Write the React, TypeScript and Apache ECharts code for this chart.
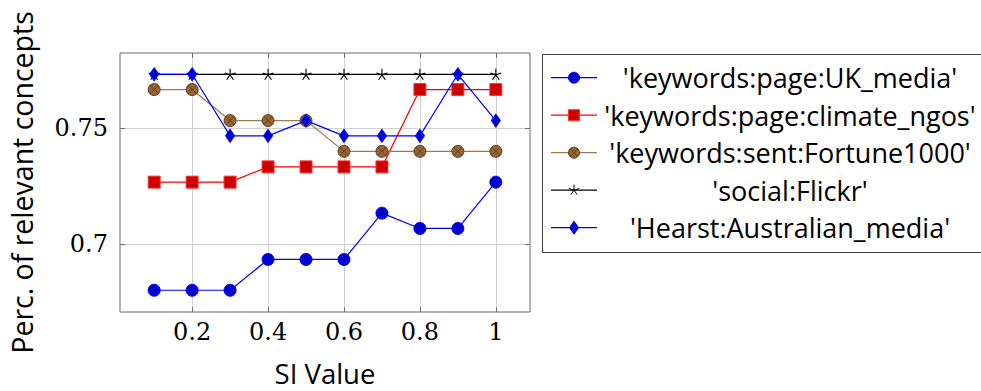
import React, { useEffect, useRef } from "react";
import * as echarts from "echarts";

const siValues = [0.1, 0.2, 0.3, 0.4, 0.5, 0.6, 0.7, 0.8, 0.9, 1.0];
const ukMedia = [0.68, 0.68, 0.68, 0.6933, 0.6933, 0.6933, 0.7133, 0.7067, 0.7067, 0.7267];
const climateNgos = [0.7267, 0.7267, 0.7267, 0.7333, 0.7333, 0.7333, 0.7333, 0.7667, 0.7667, 0.7667];
const fortune1000 = [0.7667, 0.7667, 0.7533, 0.7533, 0.7533, 0.74, 0.74, 0.74, 0.74, 0.74];
const flickr = [0.7733, 0.7733, 0.7733, 0.7733, 0.7733, 0.7733, 0.7733, 0.7733, 0.7733, 0.7733];
const hearst = [0.7733, 0.7733, 0.7467, 0.7467, 0.7533, 0.7467, 0.7467, 0.7467, 0.7733, 0.7533];

const seriesNames = [
  "'keywords:page:UK_media'",
  "'keywords:page:climate_ngos'",
  "'keywords:sent:Fortune1000'",
  "'social:Flickr'",
  "'Hearst:Australian_media'",
];
const xTickValues = [0.2, 0.4, 0.6, 0.8, 1];
const yTickValues = [0.7, 0.75];
const xTitle = "SI Value";
const yTitle = "Perc. of relevant concepts";

const SANS = "'Open Sans', sans-serif";
const SERIF = "'DejaVu Serif', serif";

const circleX =
  "path://M-1,0 A1,1 0 1,0 1,0 A1,1 0 1,0 -1,0 Z M-0.707,-0.707 L0.707,0.707 M0.707,-0.707 L-0.707,0.707";
const starPath =
  "path://M0,0 L0,-1 M0,0 L0.951,-0.309 M0,0 L0.588,0.809 M0,0 L-0.588,0.809 M0,0 L-0.951,-0.309";

const styles = [
  { line: "#0000ff", fill: "#0000cc", border: "#0000ff", symbol: "circle", size: 12 as any },
  { line: "#ff0000", fill: "#cc0000", border: "#ff3333", symbol: "rect", size: 12 as any },
  { line: "#a07850", fill: "#996633", border: "#5a3c1e", symbol: circleX, size: 12 as any },
  { line: "#000000", fill: "#000000", border: "#000000", symbol: starPath, size: 11 as any },
  { line: "#0000ff", fill: "#0000cc", border: "#0000ff", symbol: "diamond", size: [9, 13] as any },
];
const seriesData = [ukMedia, climateNgos, fortune1000, flickr, hearst];

export default function App() {
  const ref = useRef<HTMLDivElement>(null);
  useEffect(() => {
    document.body.style.margin = "0";
    const chart = echarts.init(ref.current!, null, { renderer: "svg" });

    const gridLeft = 120, gridTop = 53, gridW = 410, gridH = 259;
    const series: any[] = seriesData.map((d, i) => ({
      name: seriesNames[i],
      type: "line",
      data: siValues.map((x, j) => [x, d[j]]),
      symbol: styles[i].symbol,
      symbolSize: styles[i].size,
      showSymbol: true,
      lineStyle: { color: styles[i].line, width: 1.2 },
      itemStyle: {
        color: styles[i].fill,
        borderColor: styles[i].border,
        borderWidth: i === 3 ? 1.1 : 1,
      },
      z: 3 + i,
    }));

    const lx = 542, ly = 54, rowH = 37.5, row0 = 77.7;
    const legendEls: any[] = [
      {
        type: "rect",
        shape: { x: lx + 0.5, y: ly + 0.5, width: 470, height: 198 },
        style: { fill: "#fff", stroke: "#404040", lineWidth: 1 },
      },
    ];
    seriesNames.forEach((name, i) => {
      const cy = row0 + i * rowH;
      const cx = 574;
      const s = styles[i];
      legendEls.push({
        type: "line",
        shape: { x1: 551, y1: cy, x2: 597, y2: cy },
        style: { stroke: s.line, lineWidth: 1.2 },
      });
      if (i === 0) {
        legendEls.push({ type: "circle", shape: { cx, cy, r: 5.5 }, style: { fill: s.fill, stroke: s.border, lineWidth: 1 } });
      } else if (i === 1) {
        legendEls.push({ type: "rect", shape: { x: cx - 5.5, y: cy - 5.5, width: 11, height: 11 }, style: { fill: s.fill, stroke: s.border, lineWidth: 1 } });
      } else if (i === 2) {
        legendEls.push({ type: "circle", shape: { cx, cy, r: 5.5 }, style: { fill: s.fill, stroke: s.border, lineWidth: 1 } });
        legendEls.push({ type: "line", shape: { x1: cx - 3.9, y1: cy - 3.9, x2: cx + 3.9, y2: cy + 3.9 }, style: { stroke: s.border, lineWidth: 1 } });
        legendEls.push({ type: "line", shape: { x1: cx + 3.9, y1: cy - 3.9, x2: cx - 3.9, y2: cy + 3.9 }, style: { stroke: s.border, lineWidth: 1 } });
      } else if (i === 3) {
        const angs = [-90, -18, 54, 126, 198];
        angs.forEach((a) => {
          const r = (a * Math.PI) / 180;
          legendEls.push({
            type: "line",
            shape: { x1: cx, y1: cy, x2: cx + 5.5 * Math.cos(r), y2: cy + 5.5 * Math.sin(r) },
            style: { stroke: "#000", lineWidth: 1 },
          });
        });
      } else {
        legendEls.push({
          type: "polygon",
          shape: { points: [[cx, cy - 6.5], [cx + 4.5, cy], [cx, cy + 6.5], [cx - 4.5, cy]] },
          style: { fill: s.fill, stroke: s.border, lineWidth: 1 },
        });
      }
      legendEls.push({
        type: "text",
        x: 790,
        y: cy,
        style: { text: name, font: `27px ${SANS}`, fill: "#000", align: "center", verticalAlign: "middle" },
      });
    });

    const tickStyle = { color: "#707070", width: 1 };
    chart.setOption({
      animation: false,
      grid: {
        left: gridLeft, top: gridTop, width: gridW, height: gridH,
        outerBoundsMode: "none", containLabel: false,
        show: true, borderColor: "#6b6b6b", borderWidth: 1, backgroundColor: "transparent",
      },
      xAxis: [
        {
          type: "value", min: 0.01, max: 1.09, position: "bottom",
          axisLine: { show: false },
          axisTick: { show: true, inside: true, length: 5, lineStyle: tickStyle, customValues: xTickValues },
          splitLine: { show: true, lineStyle: { color: "#d0d0d0", width: 1 } },
          axisLabel: {
            customValues: xTickValues, margin: 8,
            fontFamily: SERIF, fontSize: 24, color: "#000",
            formatter: (v: number) => String(Number(v.toFixed(2))),
          },
          name: xTitle, nameLocation: "middle", nameGap: 47,
          nameTextStyle: { fontFamily: SANS, fontSize: 27.5, color: "#000", lineHeight: 28 },
        },
        {
          type: "value", min: 0.01, max: 1.09, position: "top",
          axisLine: { show: false },
          axisTick: { show: true, inside: true, length: 5, lineStyle: tickStyle, customValues: xTickValues },
          splitLine: { show: false },
          axisLabel: { show: false },
        },
      ],
      yAxis: [
        {
          type: "value", min: 0.6706, max: 0.7825, position: "left",
          axisLine: { show: false },
          axisTick: { show: true, inside: true, length: 5, lineStyle: tickStyle, customValues: yTickValues },
          splitLine: { show: true, lineStyle: { color: "#d0d0d0", width: 1 } },
          axisLabel: {
            customValues: yTickValues, margin: 12,
            fontFamily: SERIF, fontSize: 24, color: "#000",
            formatter: (v: number) => String(Number(v.toFixed(2))),
          },
          name: yTitle, nameLocation: "middle", nameGap: 84, nameRotate: 90,
          nameTextStyle: { fontFamily: SANS, fontSize: 28.5, color: "#000" },
        },
        {
          type: "value", min: 0.6706, max: 0.7825, position: "right",
          axisLine: { show: false },
          axisTick: { show: true, inside: true, length: 5, lineStyle: tickStyle, customValues: yTickValues },
          splitLine: { show: false },
          axisLabel: { show: false },
        },
      ],
      series,
      graphic: { elements: legendEls },
    });
    return () => chart.dispose();
  }, []);
  return <div ref={ref} style={{ width: 981, height: 391 }} />;
}
